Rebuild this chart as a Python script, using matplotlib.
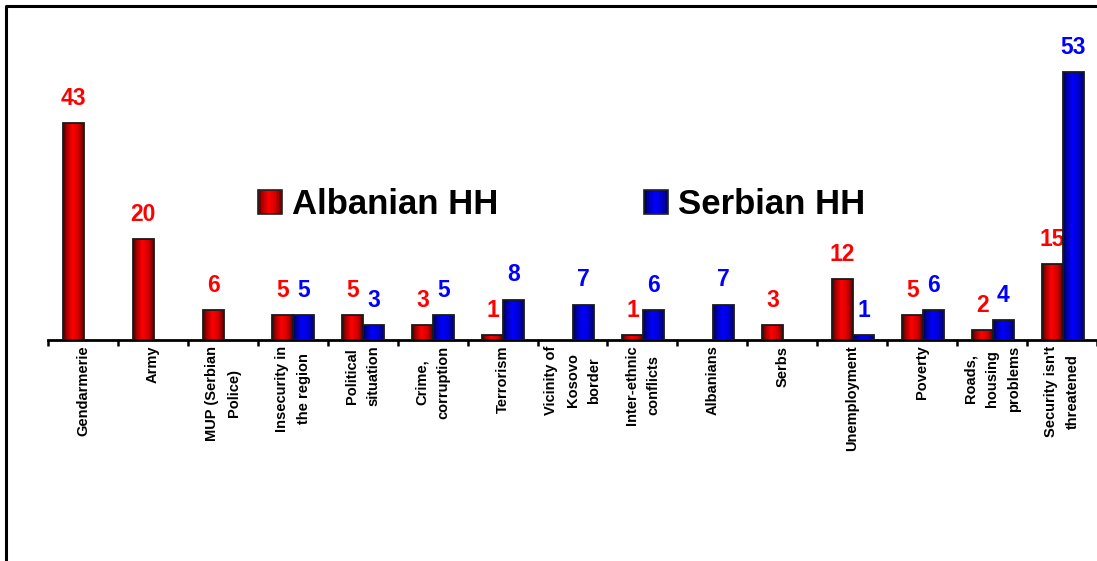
import numpy as np
import matplotlib
matplotlib.use('Agg')
import matplotlib.pyplot as plt
from matplotlib.colors import LinearSegmentedColormap
from matplotlib.patches import Rectangle
from matplotlib.lines import Line2D
from matplotlib.legend_handler import HandlerBase

categories = [
    'Gendarmerie', 'Army', 'MUP (Serbian\nPolice)', 'Insecurity in\nthe region',
    'Political\nsituation', 'Crime,\ncorruption', 'Terrorism',
    'Vicinity of\nKosovo\nborder', 'Inter-ethnic\nconflicts', 'Albanians',
    'Serbs', 'Unemployment', 'Poverty', 'Roads,\nhousing\nproblems',
    "Security isn't\nthreatened",
]
albanian = [43, 20, 6, 5, 5, 3, 1, 0, 1, 0, 3, 12, 5, 2, 15]
serbian = [0, 0, 0, 5, 3, 5, 8, 7, 6, 7, 0, 1, 6, 4, 53]

plt.rcParams['font.family'] = ['Liberation Sans', 'DejaVu Sans']
plt.rcParams['font.weight'] = 'bold'

RED = '#ff0000'
BLUE = '#0000ff'
red_cmap = LinearSegmentedColormap.from_list(
    'redgrad', [(0, '#3a0000'), (0.15, '#a00000'), (0.45, '#ff0000'),
                (0.75, '#d00000'), (1, '#600000')])
blue_cmap = LinearSegmentedColormap.from_list(
    'bluegrad', [(0, '#00003a'), (0.15, '#0000a0'), (0.45, '#0000ff'),
                 (0.75, '#0000d0'), (1, '#000060')])
grad = np.linspace(0, 1, 64).reshape(1, -1)


class GradientHandler(HandlerBase):
    def __init__(self, cmap):
        super().__init__()
        self.cmap = cmap

    def create_artists(self, legend, orig, xd, yd, w, h, fs, trans):
        n = 16
        arts = []
        for k in range(n):
            arts.append(Rectangle((xd + k * w / n, yd), w / n + 0.3, h, lw=0,
                                  facecolor=self.cmap((k + 0.5) / n), transform=trans))
        arts.append(Rectangle((xd, yd), w, h, facecolor='none', edgecolor='#222222',
                              lw=1.2, transform=trans))
        return arts


W, H = 1097, 561
fig = plt.figure(figsize=(W / 100, H / 100), dpi=100)
ax = fig.add_axes([48 / W, (H - 340) / H, (W - 48) / W, 277.75 / H])

x = np.arange(len(categories))
bw = 0.30
offset = 0.51


def draw_bars(vals, shift, cmap, color):
    for i, v in zip(x, vals):
        if v <= 0:
            continue
        x0 = i + offset + shift - bw / 2
        bar = ax.bar(x0, v, bw, align='edge', facecolor='none',
                     edgecolor='#1a1a1a', lw=1.3, zorder=3)[0]
        im = ax.imshow(grad, extent=[x0, x0 + bw, 0, v], cmap=cmap,
                       aspect='auto', zorder=2, interpolation='bilinear')
        im.set_clip_path(bar)
        ax.annotate(str(v), (x0 + bw / 2, v), xytext=(0, 9.5),
                    textcoords='offset points', ha='center', va='bottom',
                    fontsize=16.5, fontweight='bold', color=color)


draw_bars(albanian, -bw / 2, red_cmap, RED)
draw_bars(serbian, bw / 2, blue_cmap, BLUE)

ax.set_xlim(0, len(categories))
ax.set_ylim(0, 55)

for s in ['left', 'top', 'right']:
    ax.spines[s].set_visible(False)
ax.spines['bottom'].set_linewidth(2)
ax.set_yticks([])
ax.set_xticks(x + 0.5)
ax.set_xticklabels(categories, rotation=90, fontsize=10.5, fontweight='bold',
                   multialignment='center', linespacing=1.7)
ax.tick_params(axis='x', which='major', length=0, pad=4)
ax.set_xticks(np.arange(len(categories) + 1), minor=True)
ax.tick_params(axis='x', which='minor', length=4, width=1.8, direction='out')

handles = [Rectangle((0, 0), 1, 1), Rectangle((0, 0), 1, 1)]
ax.legend(handles, ['Albanian HH', 'Serbian HH'], ncol=2, frameon=False,
          handler_map={handles[0]: GradientHandler(red_cmap),
                       handles[1]: GradientHandler(blue_cmap)},
          prop={'size': 25, 'weight': 'bold'},
          handlelength=0.68, handleheight=0.68, handletextpad=0.3,
          columnspacing=4.2, borderpad=0, borderaxespad=0,
          loc='center left', bbox_to_anchor=(258 / W, 1 - 204 / H),
          bbox_transform=fig.transFigure)

# outer frame (left and top edges visible)
fig.add_artist(Line2D([6 / W, 6 / W, 1.0], [0, 1 - 6 / H, 1 - 6 / H],
                      transform=fig.transFigure, color='black', lw=2.2))

fig.savefig('out.png', dpi=100)
